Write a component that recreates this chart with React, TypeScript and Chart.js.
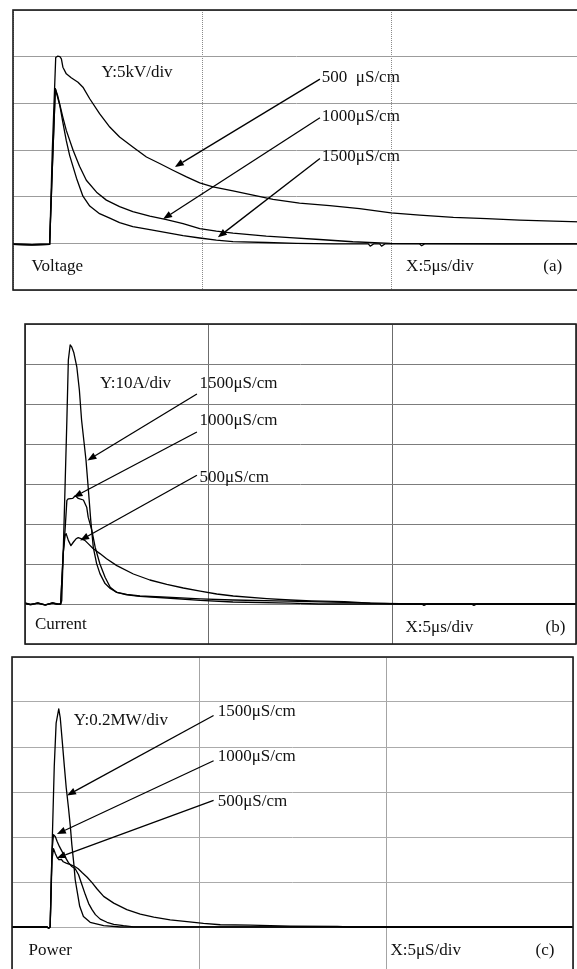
import React, { useEffect, useRef } from 'react';
import { Chart, registerables } from 'chart.js';

Chart.register(...registerables);

// ---------- shared time axis (µs) ----------
const TIME_MIN = 0;
const TIME_MAX = 15;
const TIME_STEP = 5;

// ---------- (a) Voltage, kV ----------
const vTime500 = [0, 0.5, 0.97, 1.04, 1.13, 1.18, 1.24, 1.28, 1.32, 1.41, 1.54, 1.72, 1.85, 2.03, 2.29, 2.56, 2.82, 3.17, 3.53, 3.88, 4.23, 4.59, 4.94, 5.29, 5.82, 6.35, 6.88, 7.58, 8.38, 9.17, 10.0, 10.76, 11.65, 12.53, 13.4, 14.3, 15.0];
const vKv500 = [-0.1, -0.15, -0.1, 10.0, 19.9, 20.05, 20.0, 19.77, 18.87, 18.16, 17.74, 17.26, 16.73, 15.49, 13.89, 12.46, 11.39, 10.32, 9.25, 8.55, 7.83, 7.12, 6.47, 6.05, 5.62, 5.16, 4.7, 4.3, 4.04, 3.72, 3.27, 3.02, 2.78, 2.65, 2.49, 2.38, 2.3];

const vTime1000 = [0, 0.5, 0.97, 1.04, 1.12, 1.18, 1.32, 1.41, 1.59, 1.76, 1.94, 2.21, 2.47, 2.82, 3.17, 3.62, 4.06, 4.5, 4.94, 5.38, 5.82, 6.7, 7.32, 8.11, 8.99, 9.99, 11.55, 13.0, 15.0];
const vKv1000 = [-0.1, -0.15, -0.1, 8.0, 16.56, 15.84, 13.49, 12.1, 9.97, 8.26, 6.76, 5.48, 4.63, 3.93, 3.4, 2.92, 2.54, 2.12, 1.58, 1.31, 1.1, 0.78, 0.62, 0.41, 0.17, 0.0, -0.03, -0.05, -0.05];

const vTime1500 = [0, 0.5, 0.97, 1.04, 1.12, 1.24, 1.32, 1.41, 1.5, 1.68, 1.85, 2.03, 2.29, 2.56, 2.82, 3.17, 3.62, 4.06, 4.5, 4.94, 5.38, 5.82, 6.7, 7.5, 8.5, 9.4, 9.45, 9.55, 9.7, 9.75, 9.85, 10.75, 10.81, 10.9, 12.5, 15.0];
const vKv1500 = [-0.1, -0.15, -0.1, 8.0, 16.56, 14.75, 12.93, 11.0, 9.4, 6.98, 5.05, 3.99, 3.18, 2.7, 2.22, 1.79, 1.47, 1.15, 0.83, 0.57, 0.35, 0.19, 0.09, 0.0, -0.05, -0.05, -0.3, -0.05, -0.05, -0.3, -0.05, -0.05, -0.25, -0.05, -0.05, -0.05];

// ---------- (b) Current, A ----------
const iTime500 = [0, 0.15, 0.35, 0.55, 0.75, 0.9, 0.97, 1.04, 1.09, 1.12, 1.18, 1.25, 1.32, 1.39, 1.45, 1.54, 1.63, 1.72, 1.86, 2.04, 2.22, 2.5, 2.95, 3.4, 3.86, 4.31, 4.77, 5.22, 5.67, 6.58, 7.22, 7.8, 8.7, 9.4, 10.2, 10.8, 10.86, 10.95, 12.15, 12.22, 12.3, 15.0];
const iAmp500 = [0.2, -0.2, 0.3, -0.2, 0.25, -0.1, 0, 12.6, 17.1, 17.6, 15.9, 14.6, 15.5, 16.3, 16.6, 16.3, 15.9, 15.1, 13.8, 12.6, 11.3, 9.6, 7.5, 6.0, 4.9, 4.0, 3.2, 2.5, 2.0, 1.35, 1.0, 0.8, 0.6, 0.2, 0.1, 0.0, -0.35, 0.0, 0.0, -0.35, 0.0, 0.0];

const iTime1000 = [0, 0.15, 0.35, 0.55, 0.75, 0.9, 0.97, 1.04, 1.09, 1.14, 1.18, 1.3, 1.36, 1.4, 1.45, 1.59, 1.63, 1.68, 1.72, 1.82, 1.91, 2.04, 2.18, 2.32, 2.5, 2.77, 3.13, 3.86, 4.77, 5.66, 7.14, 8.66, 9.4, 10.2, 15.0];
const iAmp1000 = [0.1, -0.1, 0.2, -0.2, 0.2, -0.1, 0, 12.6, 18.4, 25.9, 26.3, 26.4, 27.0, 26.8, 26.4, 26.0, 25.2, 24.2, 21.7, 18.4, 14.2, 10.0, 6.7, 4.2, 2.9, 2.4, 2.0, 1.7, 1.3, 1.0, 0.7, 0.4, 0.2, 0.0, 0.0];

const iTime1500 = [0, 0.15, 0.35, 0.55, 0.75, 0.9, 0.97, 1.0, 1.04, 1.09, 1.14, 1.18, 1.23, 1.27, 1.33, 1.41, 1.48, 1.54, 1.61, 1.66, 1.72, 1.79, 1.86, 1.95, 2.04, 2.18, 2.32, 2.5, 2.77, 3.13, 3.86, 4.77, 5.66, 7.22, 8.0, 15.0];
const iAmp1500 = [0.3, -0.1, 0.2, -0.3, 0.3, 0, 0, 0.8, 12.6, 29.2, 46.0, 61.0, 64.8, 64.3, 62.8, 59.3, 53.5, 46.0, 40.2, 36.0, 29.2, 20.9, 14.1, 10.1, 7.6, 5.1, 3.9, 2.9, 2.3, 1.9, 1.5, 0.9, 0.5, 0.2, 0.0, 0.0];

// ---------- (c) Power, MW ----------
const pTime500 = [0, 0.94, 0.98, 1.02, 1.07, 1.11, 1.16, 1.21, 1.26, 1.32, 1.37, 1.45, 1.56, 1.67, 1.77, 1.88, 2.01, 2.14, 2.27, 2.45, 2.72, 3.07, 3.43, 3.79, 4.23, 4.68, 5.12, 5.57, 6.37, 7.44, 8.7, 9.0, 15.0];
const pMw500 = [0, 0, -0.005, 0, 0.3, 0.348, 0.326, 0.308, 0.299, 0.301, 0.29, 0.284, 0.277, 0.27, 0.259, 0.241, 0.221, 0.197, 0.17, 0.136, 0.106, 0.077, 0.057, 0.044, 0.032, 0.024, 0.016, 0.01, 0.008, 0.004, 0.003, 0, 0];

const pTime1000 = [0, 0.94, 0.98, 1.02, 1.07, 1.11, 1.16, 1.21, 1.27, 1.34, 1.43, 1.51, 1.6, 1.69, 1.78, 1.87, 1.96, 2.05, 2.14, 2.23, 2.36, 2.54, 2.72, 2.98, 3.25, 15.0];
const pMw1000 = [0, 0, -0.005, 0, 0.34, 0.41, 0.401, 0.379, 0.357, 0.335, 0.308, 0.286, 0.269, 0.259, 0.232, 0.188, 0.144, 0.104, 0.077, 0.055, 0.035, 0.021, 0.012, 0.006, 0.001, 0];

const pTime1500 = [0, 0.94, 0.98, 1.02, 1.07, 1.13, 1.18, 1.25, 1.29, 1.34, 1.4, 1.45, 1.51, 1.56, 1.6, 1.65, 1.69, 1.74, 1.81, 1.91, 2.09, 2.45, 2.9, 15.0];
const pMw1500 = [0, 0, -0.005, 0, 0.344, 0.714, 0.906, 0.969, 0.93, 0.833, 0.714, 0.619, 0.53, 0.447, 0.366, 0.286, 0.21, 0.161, 0.092, 0.047, 0.021, 0.006, 0, 0];

// ---------- text ----------
const conductivityLabels = ['500  μS/cm', '1000μS/cm', '1500μS/cm', '500μS/cm'];
const panelTitles = ['Voltage', 'Current', 'Power'];
const yScaleTexts = ['Y:5kV/div', 'Y:10A/div', 'Y:0.2MW/div'];
const xScaleTexts = ['X:5μs/div', 'X:5μs/div', 'X:5μS/div'];
const panelTags = ['(a)', '(b)', '(c)'];

type Series = { t: number[]; v: number[] };
type Label = { text: string; x: number; y: number };
type Arrow = { x0: number; y0: number; x1: number; y1: number };
type Box = { left: number; top: number; right: number; bottom: number };
type PanelSpec = {
  box: Box;
  yMin: number;
  yMax: number;
  yStep: number;
  series: Series[];
  labels: Label[];
  arrows: Arrow[];
  hGrid: string;
  vGrid: string;
  vDash: number[];
};

const FONT = '17px "Liberation Serif", "Times New Roman", serif';
const PAD = 6;

const panels: PanelSpec[] = [
  {
    box: { left: 13, top: 10, right: 580, bottom: 290 },
    yMin: -5, yMax: 25, yStep: 5,
    series: [
      { t: vTime500, v: vKv500 },
      { t: vTime1000, v: vKv1000 },
      { t: vTime1500, v: vKv1500 },
    ],
    labels: [
      { text: yScaleTexts[0], x: 2.34, y: 17.87 },
      { text: conductivityLabels[0], x: 8.17, y: 17.3 },
      { text: conductivityLabels[1], x: 8.17, y: 13.1 },
      { text: conductivityLabels[2], x: 8.17, y: 8.82 },
      { text: panelTitles[0], x: 0.49, y: -2.93 },
      { text: xScaleTexts[0], x: 10.4, y: -2.93 },
      { text: panelTags[0], x: 14.03, y: -2.93 },
    ],
    arrows: [
      { x0: 8.12, y0: 17.59, x1: 4.28, y1: 8.18 },
      { x0: 8.12, y0: 13.46, x1: 3.97, y1: 2.6 },
      { x0: 8.12, y0: 9.08, x1: 5.42, y1: 0.64 },
    ],
    hGrid: '#9c9c9c',
    vGrid: '#8a8a8a',
    vDash: [1, 1],
  },
  {
    box: { left: 25, top: 324, right: 576, bottom: 644 },
    yMin: -10, yMax: 70, yStep: 10,
    series: [
      { t: iTime500, v: iAmp500 },
      { t: iTime1000, v: iAmp1000 },
      { t: iTime1500, v: iAmp1500 },
    ],
    labels: [
      { text: yScaleTexts[1], x: 2.04, y: 53.9 },
      { text: conductivityLabels[2], x: 4.75, y: 53.9 },
      { text: conductivityLabels[1], x: 4.75, y: 44.7 },
      { text: conductivityLabels[3], x: 4.75, y: 30.5 },
      { text: panelTitles[1], x: 0.27, y: -6.24 },
      { text: xScaleTexts[1], x: 10.36, y: -7.1 },
      { text: panelTags[1], x: 14.17, y: -7.1 },
    ],
    arrows: [
      { x0: 4.68, y0: 52.5, x1: 1.7, y1: 35.9 },
      { x0: 4.68, y0: 43.0, x1: 1.32, y1: 26.7 },
      { x0: 4.68, y0: 32.2, x1: 1.5, y1: 15.9 },
    ],
    hGrid: '#7c7c7c',
    vGrid: '#6c6c6c',
    vDash: [],
  },
  {
    box: { left: 12, top: 657, right: 573, bottom: 972 },
    yMin: -0.2, yMax: 1.2, yStep: 0.2,
    series: [
      { t: pTime500, v: pMw500 },
      { t: pTime1000, v: pMw1000 },
      { t: pTime1500, v: pMw1500 },
    ],
    labels: [
      { text: yScaleTexts[2], x: 1.65, y: 0.899 },
      { text: conductivityLabels[2], x: 5.5, y: 0.94 },
      { text: conductivityLabels[1], x: 5.5, y: 0.739 },
      { text: conductivityLabels[3], x: 5.5, y: 0.539 },
      { text: panelTitles[2], x: 0.44, y: -0.123 },
      { text: xScaleTexts[2], x: 10.12, y: -0.123 },
      { text: panelTags[2], x: 14.0, y: -0.123 },
    ],
    arrows: [
      { x0: 5.39, y0: 0.94, x1: 1.47, y1: 0.585 },
      { x0: 5.39, y0: 0.739, x1: 1.2, y1: 0.413 },
      { x0: 5.39, y0: 0.563, x1: 1.2, y1: 0.307 },
    ],
    hGrid: '#ababab',
    vGrid: '#a4a4a4',
    vDash: [],
  },
];

function ScopePanel({ spec }: { spec: PanelSpec }) {
  const ref = useRef<HTMLCanvasElement>(null);
  const w = spec.box.right - spec.box.left + 2 * PAD;
  const h = spec.box.bottom - spec.box.top + 2 * PAD;

  useEffect(() => {
    const canvas = ref.current;
    if (!canvas) return;
    const overlay = {
      id: 'scopeOverlay',
      afterDraw(chart: any) {
        const { ctx, chartArea: a, scales } = chart;
        const xs = scales.x;
        const ys = scales.y;
        ctx.save();
        // frame
        ctx.strokeStyle = '#1c1c1c';
        ctx.lineWidth = 1.6;
        ctx.strokeRect(a.left, a.top, a.right - a.left, a.bottom - a.top);
        // texts
        ctx.fillStyle = '#111';
        ctx.font = FONT;
        ctx.textAlign = 'left';
        ctx.textBaseline = 'alphabetic';
        for (const l of spec.labels) {
          ctx.fillText(l.text, xs.getPixelForValue(l.x), ys.getPixelForValue(l.y));
        }
        // arrows
        ctx.strokeStyle = '#000';
        ctx.fillStyle = '#000';
        ctx.lineWidth = 1.3;
        for (const ar of spec.arrows) {
          const p0x = xs.getPixelForValue(ar.x0);
          const p0y = ys.getPixelForValue(ar.y0);
          const p1x = xs.getPixelForValue(ar.x1);
          const p1y = ys.getPixelForValue(ar.y1);
          const ang = Math.atan2(p1y - p0y, p1x - p0x);
          const L = 9;
          const W = 3.5;
          const bx = p1x - L * Math.cos(ang);
          const by = p1y - L * Math.sin(ang);
          ctx.beginPath();
          ctx.moveTo(p0x, p0y);
          ctx.lineTo(bx, by);
          ctx.stroke();
          ctx.beginPath();
          ctx.moveTo(p1x, p1y);
          ctx.lineTo(bx + W * Math.sin(ang), by - W * Math.cos(ang));
          ctx.lineTo(bx - W * Math.sin(ang), by + W * Math.cos(ang));
          ctx.closePath();
          ctx.fill();
        }
        ctx.restore();
      },
    };

    const chart = new Chart(canvas, {
      type: 'line',
      data: {
        datasets: spec.series.map((s) => ({
          data: s.t.map((t, i) => ({ x: t, y: s.v[i] })),
          borderColor: '#000',
          borderWidth: 1.3,
          pointRadius: 0,
          tension: 0,
          fill: false,
          borderJoinStyle: 'round' as const,
        })),
      },
      options: {
        responsive: false,
        animation: false,
        events: [],
        layout: { padding: PAD },
        plugins: { legend: { display: false }, tooltip: { enabled: false } },
        scales: {
          x: {
            type: 'linear',
            min: TIME_MIN,
            max: TIME_MAX,
            ticks: { display: false, stepSize: TIME_STEP },
            grid: { color: spec.vGrid, lineWidth: 1, drawTicks: false },
            border: { display: false, dash: spec.vDash },
          },
          y: {
            type: 'linear',
            min: spec.yMin,
            max: spec.yMax,
            ticks: { display: false, stepSize: spec.yStep },
            grid: { color: spec.hGrid, lineWidth: 1, drawTicks: false },
            border: { display: false },
          },
        },
      },
      plugins: [overlay],
    } as any);
    return () => chart.destroy();
  }, [spec]);

  return (
    <canvas
      ref={ref}
      width={w}
      height={h}
      style={{
        position: 'absolute',
        left: spec.box.left - PAD,
        top: spec.box.top - PAD,
        width: w,
        height: h,
      }}
    />
  );
}

export default function App() {
  return (
    <div
      style={{
        position: 'fixed',
        left: 0,
        top: 0,
        width: 577,
        height: 969,
        overflow: 'hidden',
        background: '#fff',
      }}
    >
      {panels.map((p, i) => (
        <ScopePanel key={i} spec={p} />
      ))}
    </div>
  );
}
